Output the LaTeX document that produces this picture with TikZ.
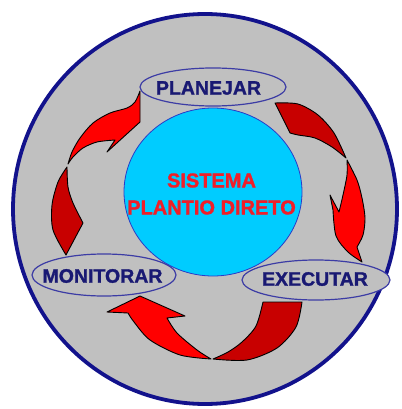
\documentclass[tikz,border=0pt]{standalone}
\usepackage{fontspec}
\setmainfont[BoldFeatures={FakeBold=1.4}]{Liberation Sans}
\definecolor{discgray}{RGB}{192,192,192}
\definecolor{rimnavy}{RGB}{18,18,140}
\definecolor{corecyan}{RGB}{0,204,255}
\definecolor{coreline}{RGB}{40,60,200}
\definecolor{ovalline}{RGB}{60,60,165}
\definecolor{labelnavy}{RGB}{25,25,115}
\definecolor{coretext}{RGB}{240,30,40}
\definecolor{headred}{RGB}{255,0,0}
\definecolor{tailred}{RGB}{200,0,0}
\begin{document}
\begin{tikzpicture}[x=1pt,y=-1pt,
  arrowpart/.style={draw=black, line width=0.9pt, line join=round},
  stage/.style={draw=ovalline, line width=1.2pt, fill=discgray},
  stagetext/.style={font=\bfseries\fontsize{19.5}{22}\selectfont, text=labelnavy, inner sep=0pt},
  coretxt/.style={font=\bfseries\fontsize{20}{27}\selectfont, text=coretext, align=center, inner sep=0pt}]
\useasboundingbox (0,0) rectangle (401,409);
\fill[white] (0,0) rectangle (401,409);

% outer disc
\draw[fill=discgray, draw=rimnavy, line width=3.8pt] (205,209) ellipse [x radius=192, y radius=195];

% central system
\draw[fill=corecyan, draw=coreline, line width=0.8pt] (213,192) ellipse [x radius=89, y radius=84];
\node[coretxt] (core) at (211.5,194) {SISTEMA\\PLANTIO DIRETO};

% stage ovals
\draw[stage] (213,87) ellipse [x radius=73, y radius=19];
\draw[stage] (104,275) ellipse [x radius=72, y radius=21];
\draw[stage] (316,280) ellipse [x radius=74, y radius=20];
\node[stagetext] (plan) at (208.5,88) {PLANEJAR};
\node[stagetext] (mon) at (102.5,276) {MONITORAR};
\node[stagetext] (exec) at (315,279) {EXECUTAR};

% left arrow: monitor -> plan
\filldraw[arrowpart, fill=tailred] (67,167) -- plot[smooth] coordinates {(67,167) (58,182) (52,205) (53,230) (66,255)} -- (83,223) -- plot[smooth] coordinates {(83,223) (73,203) (68,187) (67,167)} -- cycle;
\filldraw[arrowpart, fill=headred] (68,164) -- plot[smooth] coordinates {(68,164) (72,152) (80,138) (93,123) (110,113) (127,108) (135,102) (140,91)} -- (140,122) -- (107,152) -- (115,140) -- plot[smooth] coordinates {(115,140) (97,142) (83,148) (73,157) (68,164)} -- cycle;

% right arrow: plan -> execute
\filldraw[arrowpart, fill=tailred] (275,103) -- plot[smooth] coordinates {(275,103) (298,104) (318,115) (334,133) (346,158)} -- plot[smooth] coordinates {(346,158) (332,147) (315,138) (298,135) (290,133)} -- cycle;
\filldraw[arrowpart, fill=headred] (347,160) -- plot[smooth] coordinates {(347,160) (357,180) (362,198) (365,218) (363,235) (357,247)} -- (362,262) -- plot[smooth] coordinates {(362,262) (348,252) (336,236) (333,210)} -- (330,195) -- (339,212) -- plot[smooth] coordinates {(339,212) (343,195) (347,175) (347,160)} -- cycle;

% bottom arrow: execute -> monitor
\filldraw[arrowpart, fill=tailred] (263,302) -- (302,302) -- plot[smooth] coordinates {(302,302) (296,327) (277,348) (247,360) (213,359)} -- plot[smooth] coordinates {(213,359) (228,352) (242,342) (256,326) (263,302)} -- cycle;
\filldraw[arrowpart, fill=headred] (211,359) -- plot[smooth] coordinates {(211,359) (180,355) (150,340) (134,322) (128,313)} -- (107,312) -- (140,296) -- (185,316) -- (167,318) -- plot[smooth] coordinates {(167,318) (177,333) (197,350) (211,359)} -- cycle;
\end{tikzpicture}
\end{document}
